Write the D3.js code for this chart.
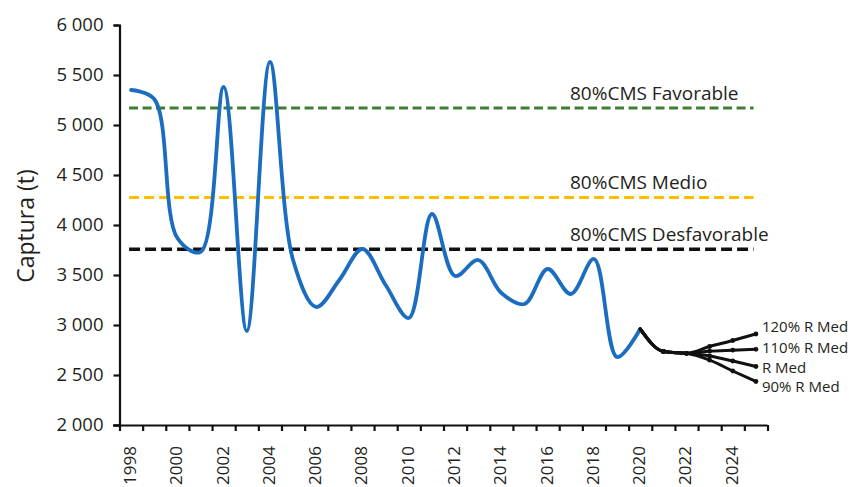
<!DOCTYPE html>
<html>
<head>
<meta charset="utf-8">
<script src="https://cdn.jsdelivr.net/npm/d3@7"></script>
<style>
  body { margin: 0; background: #fff; }
  svg { display: block; }
  text { font-family: "Open Sans", sans-serif; fill: #231f20; }
</style>
</head>
<body>
<svg id="chart" width="856" height="487"></svg>
<script>
// Category axis: one band per year
const years = [1998, 1999, 2000, 2001, 2002, 2003, 2004, 2005, 2006, 2007,
               2008, 2009, 2010, 2011, 2012, 2013, 2014, 2015, 2016, 2017,
               2018, 2019, 2020, 2021, 2022, 2023, 2024, 2025];
const yearLabels = [1998, 2000, 2002, 2004, 2006, 2008, 2010, 2012,
                    2014, 2016, 2018, 2020, 2022, 2024];
const yTicks = [2000, 2500, 3000, 3500, 4000, 4500, 5000, 5500, 6000];

// Historical catch (t)
const histYears = [1998, 1999, 2000, 2001, 2002, 2003, 2004, 2005, 2006, 2007,
                   2008, 2009, 2010, 2011, 2012, 2013, 2014, 2015, 2016, 2017,
                   2018, 2019, 2020];
const catchValues = [5350, 5260, 3870, 3730, 5380, 2940, 5630, 3650, 3180, 3450,
                     3760, 3400, 3070, 4110, 3490, 3650, 3320, 3210, 3560, 3310,
                     3660, 2680, 2960];

// Projected catch under recruitment scenarios
const projYears = [2020, 2021, 2022, 2023, 2024, 2025];
const scenarioNames = ["120% R Med", "110% R Med", "R Med", "90% R Med"];
const scenario120 = [2960, 2735, 2717, 2785, 2845, 2910];
const scenario110 = [2960, 2735, 2717, 2738, 2748, 2757];
const scenarioMed = [2960, 2735, 2717, 2690, 2640, 2585];
const scenario90  = [2960, 2735, 2717, 2648, 2540, 2435];

// Reference levels (80% of CMS)
const refNames = ["80%CMS Favorable", "80%CMS Medio", "80%CMS Desfavorable"];
const refValues = [5170, 4275, 3757];

const svg = d3.select("#chart");
const fmt = d3.formatLocale({ decimal: ",", thousands: " ", grouping: [3], currency: ["", ""] }).format(",d");

const x = d3.scaleBand().domain(years).range([119.5, 767.5]).padding(0);
const cx = yr => x(yr) + x.bandwidth() / 2;
const xEdge = d3.scaleLinear().domain([1997.5, 2025.5]).range([119.5, 767.5]);
const y = d3.scaleLinear().domain([2000, 6000]).range([425, 25]);

// Reference dashed lines
const refColors = ["#417d33", "#ffbf00", "#111111"];
const refDash = ["9,4.5", "10,5", "11,5"];
const refWidth = [3.2, 3.2, 3.6];
refValues.forEach((v, i) => {
  svg.append("line")
    .attr("x1", cx(1998) - 2).attr("x2", xEdge(2024.9))
    .attr("y1", y(v)).attr("y2", y(v))
    .attr("stroke", refColors[i]).attr("stroke-width", refWidth[i])
    .attr("stroke-dasharray", refDash[i]);
  svg.append("text")
    .attr("x", 570).attr("y", y(v) - 8.5)
    .attr("font-size", 19)
    .text(refNames[i]);
});

// Historical series, smoothed
const line = d3.line().x(d => cx(d[0])).y(d => y(d[1])).curve(d3.curveCatmullRom.alpha(0.5));
svg.append("path")
  .datum(d3.zip(histYears, catchValues))
  .attr("fill", "none").attr("stroke", "#1b6dbf").attr("stroke-width", 3.8)
  .attr("stroke-linejoin", "round").attr("stroke-linecap", "round")
  .attr("d", line);

// Projection scenarios
const scenarios = [scenario120, scenario110, scenarioMed, scenario90];
const projLine = d3.line().x(d => cx(d[0])).y(d => y(d[1])).curve(d3.curveMonotoneX);
const labelNudge = [-7, -2, 1, 5.5];
scenarios.forEach((vals, i) => {
  const pts = d3.zip(projYears, vals);
  svg.append("path").datum(pts)
    .attr("fill", "none").attr("stroke", "#111").attr("stroke-width", 3)
    .attr("stroke-linejoin", "round").attr("stroke-linecap", "round")
    .attr("d", projLine);
  svg.selectAll(null).data(pts.slice(1)).enter().append("circle")
    .attr("cx", d => cx(d[0])).attr("cy", d => y(d[1])).attr("r", 2.4)
    .attr("fill", "#111");
  const last = pts[pts.length - 1];
  svg.append("text")
    .attr("x", cx(last[0]) + 6).attr("y", y(last[1]) + labelNudge[i])
    .attr("dy", "0.35em").attr("font-size", 15)
    .text(scenarioNames[i]);
});

// Y axis
const yAxis = svg.append("g").attr("transform", "translate(119.5,0)")
  .call(d3.axisLeft(y).tickValues(yTicks).tickSize(6).tickPadding(10).tickFormat(fmt));
yAxis.select(".domain").attr("stroke", "#111").attr("stroke-width", 2.2);
yAxis.selectAll(".tick line").attr("stroke", "#111").attr("stroke-width", 2.2);
yAxis.selectAll(".tick text").attr("font-size", 18.5).attr("font-family", "'Open Sans', sans-serif").attr("fill", "#231f20");

// X axis: tick marks on year boundaries, labels on even years
const xTicks = svg.append("g").attr("transform", "translate(0,425)")
  .call(d3.axisBottom(xEdge).tickValues(years.map(v => v - 0.5).concat([2025.5])).tickSize(6).tickFormat(""));
xTicks.select(".domain").attr("stroke", "#111").attr("stroke-width", 2.2)
  .attr("d", "M113,0.5H767.5");
xTicks.selectAll(".tick line").attr("stroke", "#111").attr("stroke-width", 2.2);

svg.append("g").selectAll("text").data(yearLabels).enter().append("text")
  .attr("transform", d => `translate(${cx(d) - 1},446) rotate(-90)`)
  .attr("text-anchor", "end").attr("dy", "0.35em")
  .attr("font-size", 17)
  .text(d => d);

// Y axis title
svg.append("text")
  .attr("transform", "translate(26,226) rotate(-90)")
  .attr("text-anchor", "middle").attr("dy", "0.35em")
  .attr("font-size", 23)
  .text("Captura (t)");
</script>
</body>
</html>
